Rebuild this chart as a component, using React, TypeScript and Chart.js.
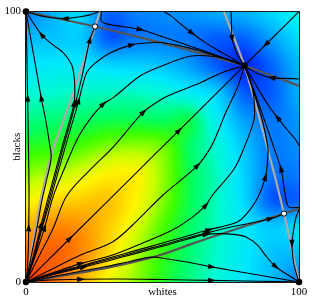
import { useEffect, useRef } from "react";
import { Chart, registerables } from "chart.js";

Chart.register(...registerables);

type P = [number, number];

// ---- axis text ----
const xTickValues = [0, 50, 100];
const xTickLabels = ["0", "whites", "100"];
const yTickValues = [0, 100];
const yTickLabels = ["0", "100"];
const yTitle = "blacks";

// ---- background field (rows from y=100 down to y=0, columns x=0..100) ----
const heatX = [0, 10, 20, 30, 40, 50, 60, 70, 80, 90, 100];
const heatY = [100, 90, 80, 70, 60, 50, 40, 30, 20, 10, 0];
const heatRows = [
  [0.18, 0.25, 0.30, 0.15, 0.18, 0.20, 0.21, 0.24, 0.25, 0.30, 0.36],
  [0.26, 0.27, 0.28, 0.14, 0.17, 0.18, 0.17, 0.14, 0.15, 0.22, 0.30],
  [0.32, 0.33, 0.33, 0.30, 0.29, 0.27, 0.22, 0.14, 0.08, 0.15, 0.25],
  [0.38, 0.39, 0.40, 0.40, 0.40, 0.38, 0.34, 0.28, 0.14, 0.14, 0.24],
  [0.44, 0.45, 0.46, 0.47, 0.47, 0.46, 0.47, 0.34, 0.22, 0.17, 0.21],
  [0.50, 0.51, 0.53, 0.56, 0.57, 0.55, 0.46, 0.38, 0.27, 0.18, 0.20],
  [0.57, 0.59, 0.62, 0.66, 0.66, 0.57, 0.47, 0.40, 0.29, 0.17, 0.18],
  [0.65, 0.70, 0.72, 0.73, 0.66, 0.56, 0.47, 0.40, 0.30, 0.14, 0.15],
  [0.76, 0.82, 0.80, 0.72, 0.62, 0.53, 0.46, 0.40, 0.33, 0.28, 0.30],
  [0.86, 0.88, 0.82, 0.70, 0.59, 0.51, 0.45, 0.39, 0.33, 0.27, 0.25],
  [0.97, 0.86, 0.76, 0.65, 0.57, 0.50, 0.44, 0.38, 0.32, 0.26, 0.18],
];
const cmapStops = [0.0, 0.08, 0.16, 0.24, 0.32, 0.39, 0.46, 0.52, 0.6, 0.66, 0.76, 0.87, 1.0];
const cmapColors: [number, number, number][] = [
  [0, 0, 220], [0, 40, 255], [0, 110, 255], [0, 175, 255], [0, 230, 255], [0, 250, 210],
  [0, 255, 100], [60, 255, 0], [200, 255, 0], [255, 245, 0], [255, 175, 0],
  [255, 100, 0], [255, 25, 0],
];

// ---- fixed points ----
const stablePoints: P[] = [[0, 0], [0, 100], [100, 0], [80, 80]];
const saddlePoints: P[] = [[25.3, 94.5], [94.5, 25.3]];

// ---- nullclines ----
const nullLightLeft: P[] = [[0, 0], [5.3, 30], [9.6, 48], [16.1, 66.4], [25.3, 94.5], [27.1, 100]];
const nullLightRight: P[] = [[100, 0], [94.5, 25.3], [88.6, 49], [80, 80], [72.5, 100]];
const nullDarkTop: P[] = [[0, 100], [25.3, 94.5], [49, 88.6], [80, 80], [100, 72.5]];
const nullDarkBottom: P[] = [[0, 0], [30, 5.3], [48, 9.6], [66.4, 16.1], [94.5, 25.3], [100, 27.1]];

// ---- trajectories (upper-left half) ----
const trU1: P[] = [[0, 0], [0.6, 6], [1.0, 20], [1.1, 35], [0.9, 50], [0.6, 68], [0.3, 85], [0, 100]];
const trU2: P[] = [[0, 0], [2, 10], [4, 20], [5.8, 30], [7.6, 38], [9.2, 46], [8.5, 52], [7.2, 60], [5.6, 68], [2.8, 84], [0, 100]];
const trU3: P[] = [[0, 0], [2.8, 10], [5.5, 21], [7.8, 30], [10.5, 40], [13.2, 50], [15.8, 59], [17.6, 66], [17.9, 71], [17.6, 76], [16.7, 80.4], [13.7, 84.7], [9.5, 88], [5.75, 91.4], [0, 100]];
const trS: P[] = [[0, 0], [3, 10], [5.9, 21], [8.3, 30], [11, 40], [13.7, 50], [16, 58], [18.2, 66.4], [20.5, 76], [23.4, 89.5], [25.2, 94.3]];
const trU4: P[] = [[0, 0], [3.2, 10], [6.2, 21], [8.8, 30], [11.6, 40], [14.4, 50], [17, 59], [19.3, 67], [20.8, 73], [22.2, 77.4], [24.7, 80.4], [30.8, 84.7], [38.7, 87.7], [45.4, 88.5], [49.7, 88.6], [60, 86.5], [70, 83.5], [80, 80]];
const trU5: P[] = [[0, 0], [3.5, 10], [6.8, 20], [10, 31.8], [14.5, 43], [19.2, 53.6], [24, 61], [28.3, 65.8], [32, 68.2], [41.8, 76.2], [49.5, 79.8], [60.1, 83.5], [68, 83.5], [74, 82.3], [80, 80]];
const trU6: P[] = [[0, 0], [5, 10], [10, 20], [14.9, 31.8], [23, 41], [32, 50], [43, 62.8], [49.7, 67.6], [56, 70.5], [62.5, 73.1], [72, 77.5], [80, 80]];
const trA: P[] = [[26.8, 100], [25.5, 99.5], [23.5, 98.8], [21, 98.3], [17, 97.7], [14.3, 97.4], [8.8, 97.8], [5, 98.5], [0, 100]];
const trB: P[] = [[27.6, 100], [27.5, 98], [27.6, 96.5], [29, 95.6], [33, 94.8], [41.8, 93.4], [50, 90.7], [60, 87.3], [70, 83.8], [80, 80]];
const trC: P[] = [[50.5, 100], [53, 98.5], [56.4, 95.6], [60.7, 92.2], [65, 89], [69.8, 86], [75, 83], [80, 80]];
const trT: P[] = [[75.1, 100], [75.3, 95], [75.5, 90.1], [77, 85], [80, 80]];

// ---- diagonals ----
const trDiag: P[] = [[0, 0], [16, 16], [40, 40], [56, 56], [80, 80]];
const trDiagTop: P[] = [[100, 100], [88, 88], [80, 80]];

// ---- trajectories (lower-right half) ----
const trL1: P[] = [[0, 0], [6, 0.6], [20, 1.0], [35, 1.1], [50, 0.9], [68, 0.6], [85, 0.3], [100, 0]];
const trL2: P[] = [[0, 0], [10, 2], [20, 4], [30, 5.8], [38, 7.6], [46, 9.2], [52, 8.5], [60, 7.2], [68, 5.6], [84, 2.8], [100, 0]];
const trL3: P[] = [[0, 0], [10, 2.8], [21, 5.5], [30, 7.8], [40, 10.5], [50, 13.2], [59, 15.8], [66, 17.6], [71, 17.9], [76, 17.6], [80.4, 16.7], [84.7, 13.7], [88, 9.5], [91.4, 5.75], [100, 0]];
const trS2: P[] = [[0, 0], [10, 3], [21, 5.9], [30, 8.3], [40, 11], [50, 13.7], [58, 16], [66.4, 18.2], [76, 20.5], [89.5, 23.4], [94.3, 25.2]];
const trL4: P[] = [[0, 0], [10, 3.2], [21, 6.2], [30, 8.8], [40, 11.6], [50, 14.4], [59, 17], [67, 19.3], [73, 20.8], [77.4, 22.2], [80.4, 24.7], [84.7, 30.8], [87.7, 38.7], [88.5, 45.4], [88.6, 49.7], [86.5, 60], [83.5, 70], [80, 80]];
const trL5: P[] = [[0, 0], [10, 3.5], [20, 6.8], [31.8, 10], [43, 14.5], [53.6, 19.2], [61, 24], [65.8, 28.3], [68.2, 32], [76.2, 41.8], [79.8, 49.5], [83.5, 60.1], [83.5, 68], [82.3, 74], [80, 80]];
const trL6: P[] = [[0, 0], [10, 5], [20, 10], [31.8, 14.9], [41, 23], [50, 32], [62.8, 43], [67.6, 49.7], [70.5, 56], [73.1, 62.5], [77.5, 72], [80, 80]];
const trA2: P[] = [[100, 26.8], [99.5, 25.5], [98.8, 23.5], [98.3, 21], [97.7, 17], [97.4, 14.3], [97.8, 8.8], [98.5, 5], [100, 0]];
const trB2: P[] = [[100, 27.6], [98, 27.5], [96.5, 27.6], [95.6, 29], [94.8, 33], [93.4, 41.8], [90.7, 50], [87.3, 60], [83.8, 70], [80, 80]];
const trC2: P[] = [[100, 50.5], [98.5, 53], [95.6, 56.4], [92.2, 60.7], [89, 65], [86, 69.8], [83, 75], [80, 80]];
const trT2: P[] = [[100, 75.1], [95, 75.3], [90.1, 75.5], [85, 77], [80, 80]];

// arrow positions (index of the point carrying an arrowhead)
const trajectories: { pts: P[]; arrows: number[] }[] = [
  { pts: trU1, arrows: [2, 5] },
  { pts: trU2, arrows: [8] },
  { pts: trU3, arrows: [2, 7, 13] },
  { pts: trS, arrows: [7, 9] },
  { pts: trU4, arrows: [7, 12] },
  { pts: trU5, arrows: [2, 7] },
  { pts: trU6, arrows: [6] },
  { pts: trA, arrows: [5] },
  { pts: trB, arrows: [5] },
  { pts: trC, arrows: [3] },
  { pts: trT, arrows: [2] },
  { pts: trDiag, arrows: [1, 3] },
  { pts: trDiagTop, arrows: [1] },
  { pts: trL1, arrows: [2, 5] },
  { pts: trL2, arrows: [8] },
  { pts: trL3, arrows: [2, 7, 13] },
  { pts: trS2, arrows: [7, 9] },
  { pts: trL4, arrows: [7, 12] },
  { pts: trL5, arrows: [2, 7] },
  { pts: trL6, arrows: [6] },
  { pts: trA2, arrows: [5] },
  { pts: trB2, arrows: [5] },
  { pts: trC2, arrows: [3] },
  { pts: trT2, arrows: [2] },
];

function cmap(v: number): [number, number, number] {
  const t = Math.max(0, Math.min(1, v));
  for (let k = 0; k < cmapStops.length - 1; k++) {
    if (t <= cmapStops[k + 1]) {
      const f = (t - cmapStops[k]) / (cmapStops[k + 1] - cmapStops[k]);
      const a = cmapColors[k], b = cmapColors[k + 1];
      return [a[0] + (b[0] - a[0]) * f, a[1] + (b[1] - a[1]) * f, a[2] + (b[2] - a[2]) * f];
    }
  }
  return cmapColors[cmapColors.length - 1];
}

function cr(p0: number, p1: number, p2: number, p3: number, t: number) {
  return p1 + 0.5 * t * (p2 - p0 + t * (2 * p0 - 5 * p1 + 4 * p2 - p3 + t * (3 * (p1 - p2) + p3 - p0)));
}

function field(xv: number, yv: number) {
  const nx = heatX.length, ny = heatY.length;
  const gx = ((xv - heatX[0]) / (heatX[nx - 1] - heatX[0])) * (nx - 1);
  const gy = ((yv - heatY[0]) / (heatY[ny - 1] - heatY[0])) * (ny - 1);
  const ix = Math.min(nx - 2, Math.max(0, Math.floor(gx)));
  const iy = Math.min(ny - 2, Math.max(0, Math.floor(gy)));
  const tx = gx - ix, ty = gy - iy;
  const cl = (i: number, n: number) => Math.max(0, Math.min(n - 1, i));
  const rowVal = (r: number) => {
    const row = heatRows[cl(r, ny)];
    return cr(row[cl(ix - 1, nx)], row[cl(ix, nx)], row[cl(ix + 1, nx)], row[cl(ix + 2, nx)], tx);
  };
  return cr(rowVal(iy - 1), rowVal(iy), rowVal(iy + 1), rowVal(iy + 2), ty);
}

const phasePlugin = {
  id: "phasePlugin",
  beforeDatasetsDraw(chart: any) {
    const { ctx, scales } = chart;
    const xs = scales.x, ys = scales.y;
    const x0 = xs.getPixelForValue(0), x1 = xs.getPixelForValue(100);
    const y0 = ys.getPixelForValue(100), y1 = ys.getPixelForValue(0);
    const N = 220;
    const off = document.createElement("canvas");
    off.width = N; off.height = N;
    const octx = off.getContext("2d")!;
    const img = octx.createImageData(N, N);
    for (let j = 0; j < N; j++) {
      const yv = 100 - ((j + 0.5) / N) * 100;
      for (let i = 0; i < N; i++) {
        const xv = ((i + 0.5) / N) * 100;
        const c = cmap(field(xv, yv));
        const o = (j * N + i) * 4;
        img.data[o] = c[0]; img.data[o + 1] = c[1]; img.data[o + 2] = c[2]; img.data[o + 3] = 255;
      }
    }
    octx.putImageData(img, 0, 0);
    ctx.save();
    ctx.imageSmoothingEnabled = true;
    ctx.drawImage(off, x0, y0, x1 - x0, y1 - y0);
    ctx.strokeStyle = "#1a1a1a";
    ctx.lineWidth = 1;
    ctx.strokeRect(Math.round(x0) - 0.5, Math.round(y0) - 0.5, Math.round(x1 - x0) + 1, Math.round(y1 - y0) + 1);
    ctx.restore();
  },
  afterDatasetDraw(chart: any, args: any) {
    const ds = chart.data.datasets[args.index];
    const arrows: number[] | undefined = ds.arrowIdx;
    if (!arrows) return;
    const pts = args.meta.data;
    const ctx = chart.ctx;
    ctx.save();
    ctx.fillStyle = "#000";
    for (const k of arrows) {
      const p = pts[k];
      const a = pts[Math.max(0, k - 1)];
      const b = pts[Math.min(pts.length - 1, k + 1)];
      let dx = b.x - a.x, dy = b.y - a.y;
      const len = Math.hypot(dx, dy) || 1;
      dx /= len; dy /= len;
      const tipX = p.x + dx * 4.5, tipY = p.y + dy * 4.5;
      const bx = p.x - dx * 3.5, by = p.y - dy * 3.5;
      ctx.beginPath();
      ctx.moveTo(tipX, tipY);
      ctx.lineTo(bx - dy * 2.6, by + dx * 2.6);
      ctx.lineTo(bx + dy * 2.6, by - dx * 2.6);
      ctx.closePath();
      ctx.fill();
    }
    ctx.restore();
  },
  afterDraw(chart: any) {
    const { ctx, chartArea, scales } = chart;
    ctx.save();
    ctx.translate(scales.y.left + 17.5, (chartArea.top + chartArea.bottom) / 2);
    ctx.rotate(-Math.PI / 2);
    ctx.font = '11px "Liberation Serif"';
    ctx.fillStyle = "#000";
    ctx.textAlign = "center";
    ctx.textBaseline = "middle";
    ctx.fillText(yTitle, 0, 0);
    ctx.restore();
  },
};

const toXY = (pts: P[]) => pts.map(([x, y]) => ({ x, y }));

export default function App() {
  const ref = useRef<HTMLCanvasElement | null>(null);
  useEffect(() => {
    if (!ref.current) return;
    const lineBase = { showLine: true, pointRadius: 0, pointHoverRadius: 0, pointHitRadius: 0, tension: 0.35, fill: false };
    const datasets: any[] = [
      {
        data: toXY(stablePoints), pointRadius: 3.3, pointBackgroundColor: "#000", pointBorderWidth: 0,
        showLine: false, clip: false, order: 0,
      },
      {
        data: toXY(saddlePoints), pointRadius: 2.6, pointBackgroundColor: "#fff", pointBorderColor: "#000",
        pointBorderWidth: 1, showLine: false, clip: false, order: 0,
      },
      ...trajectories.map((t) => ({
        ...lineBase, data: toXY(t.pts), borderColor: "#000", borderWidth: 1.1, arrowIdx: t.arrows, order: 1,
      })),
      { ...lineBase, data: toXY(nullLightLeft), borderColor: "#ababab", borderWidth: 2.2, tension: 0.2, order: 2 },
      { ...lineBase, data: toXY(nullLightRight), borderColor: "#ababab", borderWidth: 2.2, tension: 0.2, order: 2 },
      { ...lineBase, data: toXY(nullDarkTop), borderColor: "#555555", borderWidth: 2.2, tension: 0.2, order: 2 },
      { ...lineBase, data: toXY(nullDarkBottom), borderColor: "#555555", borderWidth: 2.2, tension: 0.2, order: 2 },
    ];
    const font = { family: '"Liberation Serif"', size: 11 };
    const chart = new Chart(ref.current, {
      type: "scatter",
      data: { datasets },
      plugins: [phasePlugin],
      options: {
        animation: false,
        responsive: true,
        maintainAspectRatio: false,
        devicePixelRatio: 1,
        events: [],
        layout: { padding: { left: 0, right: 15, top: 8, bottom: 0 } },
        plugins: { legend: { display: false }, tooltip: { enabled: false } },
        scales: {
          x: {
            type: "linear", min: 0, max: 100,
            grid: { display: false, drawTicks: false },
            border: { display: false },
            ticks: {
              autoSkip: false, maxRotation: 0, padding: 4, color: "#000", font,
              callback: (v: any) => {
                const i = xTickValues.indexOf(Number(v));
                return i >= 0 ? xTickLabels[i] : "";
              },
            },
            afterBuildTicks: (s: any) => { s.ticks = xTickValues.map((v) => ({ value: v })); },
            afterFit: (s: any) => { s.height = 21; },
          },
          y: {
            type: "linear", min: 0, max: 100,
            grid: { display: false, drawTicks: false },
            border: { display: false },
            ticks: {
              autoSkip: false, maxRotation: 0, padding: 5, color: "#000", font,
              callback: (v: any) => {
                const i = yTickValues.indexOf(Number(v));
                return i >= 0 ? yTickLabels[i] : "";
              },
            },
            afterBuildTicks: (s: any) => { s.ticks = yTickValues.map((v) => ({ value: v })); },
            afterFit: (s: any) => { s.width = 26; },
          },
        },
      } as any,
    });
    return () => chart.destroy();
  }, []);
  return (
    <div style={{ position: "absolute", left: 0, top: 0, width: 314, height: 303, background: "#fff" }}>
      <canvas ref={ref} />
    </div>
  );
}
